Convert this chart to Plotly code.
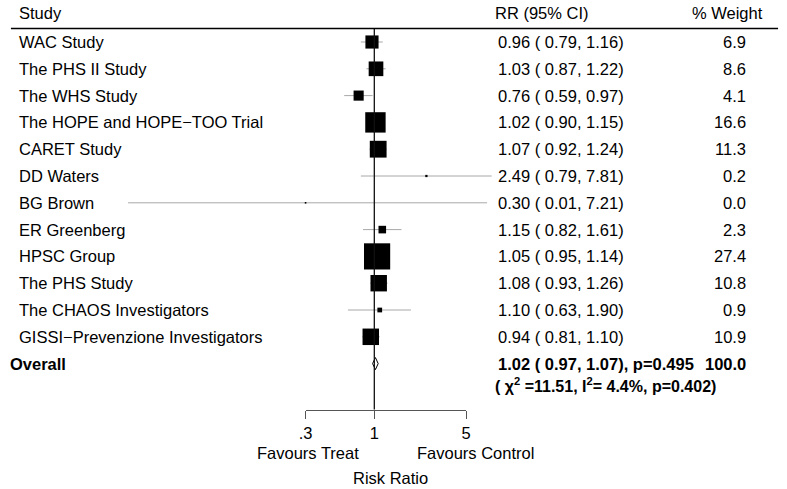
import math
import plotly.graph_objects as go

# ---------------- data ----------------
studies = ["WAC Study", "The PHS II Study", "The WHS Study", "The HOPE and HOPE\u2212TOO Trial",
           "CARET Study", "DD Waters", "BG Brown", "ER Greenberg", "HPSC Group",
           "The PHS Study", "The CHAOS Investigators", "GISSI\u2212Prevenzione Investigators"]
rr =    [0.96, 1.03, 0.76, 1.02, 1.07, 2.49, 0.30, 1.15, 1.05, 1.08, 1.10, 0.94]
ci_lo = [0.79, 0.87, 0.59, 0.90, 0.92, 0.79, 0.0134, 0.82, 0.95, 0.93, 0.63, 0.81]
ci_hi = [1.16, 1.22, 0.97, 1.15, 1.24, 7.81, 7.21, 1.61, 1.14, 1.26, 1.90, 1.10]
weight = [6.9, 8.6, 4.1, 16.6, 11.3, 0.2, 0.0, 2.3, 27.4, 10.8, 0.9, 10.9]

overall_rr, overall_lo, overall_hi = 1.02, 0.97, 1.07
overall_p = 0.495
overall_weight = 100.0
het_chi2, het_i2, het_p = 11.51, 4.4, 0.402

tick_vals = [0.3, 1, 5]
tick_text = [".3", "1", "5"]

# ---------------- layout geometry ----------------
W, H = 787, 489
X1_PX = 373.0        # pixel position of RR = 1
DEC_PX = 133.5       # pixels per decade
ROW0_PX = 42.0       # pixel y of first study row
ROW_PX = 26.8        # pixel spacing between rows

def row(p):
    return (p - ROW0_PX) / ROW_PX

def xpx(v):
    return X1_PX + DEC_PX * math.log10(v)

FONT = "Liberation Sans, Arial, Helvetica, sans-serif"
FS = 16.5
n = len(studies)
rows = list(range(n))
overall_row = n
axis_px = 409.6

fig = go.Figure()

# CI lines
lx, ly = [], []
for i in rows:
    lx += [ci_lo[i], ci_hi[i], None]
    ly += [i, i, None]
fig.add_trace(go.Scatter(x=lx, y=ly, mode="lines", line=dict(color="#a8a8a8", width=1),
                         hoverinfo="skip", showlegend=False))

# null line (drawn on the tick axis, same log scale)
fig.add_trace(go.Scatter(x=[1, 1], y=[row(28.5), row(axis_px)], xaxis="x2", yaxis="y",
                         mode="lines", line=dict(color="#111111", width=1.3),
                         hoverinfo="skip", showlegend=False))

# boxes (area proportional to weight)
sizes = [max(5.0 * math.sqrt(w), 1.6) for w in weight]
fig.add_trace(go.Scatter(x=rr, y=rows, mode="markers",
                         marker=dict(symbol="square", size=sizes, color="black", opacity=1,
                                     line=dict(width=0)),
                         text=studies, hoverinfo="text+x", showlegend=False))

# overall diamond
dh = 6.0 / ROW_PX
fig.add_trace(go.Scatter(x=[overall_lo, overall_rr, overall_hi, overall_rr, overall_lo],
                         y=[overall_row, overall_row - dh, overall_row, overall_row + dh, overall_row],
                         mode="lines", line=dict(color="black", width=1), hoverinfo="skip",
                         showlegend=False))

ann = []

def add_text(text, x_px, y_row, anchor="left", bold=False, size=FS):
    ann.append(dict(text=(f"<b>{text}</b>" if bold else text), x=x_px / W, xref="paper",
                    y=y_row, yref="y", xanchor=anchor, yanchor="middle", showarrow=False,
                    align=anchor, borderpad=0, borderwidth=0,
                    font=dict(family=FONT, size=size, color="black")))

# header
add_text("Study", 12, row(13))
add_text("RR (95% CI)", 496, row(13))
add_text("% Weight", 768, row(13), anchor="right")

for i in rows:
    add_text(studies[i], 12, i)
    add_text(f"{rr[i]:.2f} ( {ci_lo[i]:.2f}, {ci_hi[i]:.2f})", 499, i)
    add_text(f"{weight[i]:.1f}", 750, i, anchor="right")

add_text("Overall", 3, overall_row, bold=True)
add_text(f"{overall_rr:.2f} ( {overall_lo:.2f}, {overall_hi:.2f}), p={overall_p:.3f}", 499, overall_row, bold=True)
add_text(f"{overall_weight:.1f}", 750, overall_row, anchor="right", bold=True)
add_text(f"( \u03c7<sup>2</sup> ={het_chi2:.2f}, I<sup>2</sup>= {het_i2:.1f}%, p={het_p:.3f})",
         496, row(384.5), bold=True, size=16)

# axis captions
add_text("Favours Treat", 305.5, row(453), anchor="center")
add_text("Favours Control", 476, row(453), anchor="center")
add_text("Risk Ratio", 389.7, row(478), anchor="center")

fig.update_layout(
    width=W, height=H, margin=dict(l=0, r=0, t=0, b=0),
    paper_bgcolor="white", plot_bgcolor="rgba(0,0,0,0)",
    xaxis=dict(type="log", range=[(0 - X1_PX) / DEC_PX, (W - X1_PX) / DEC_PX],
               visible=False, domain=[0, 1], fixedrange=True),
    yaxis=dict(range=[row(H), row(0)], visible=False, domain=[0, 1], fixedrange=True),
    xaxis2=dict(type="log", domain=[xpx(tick_vals[0]) / W, xpx(tick_vals[-1]) / W],
                range=[math.log10(tick_vals[0]), math.log10(tick_vals[-1])],
                anchor="free", position=1 - axis_px / H,
                showline=True, linecolor="#555555", linewidth=1.3,
                ticks="outside", ticklen=8, tickcolor="#555555", tickwidth=1.3,
                tickvals=tick_vals, ticktext=tick_text, showgrid=False, zeroline=False,
                tickfont=dict(family=FONT, size=FS, color="black"), fixedrange=True),
    annotations=ann,
    showlegend=False,
)

# header rule
fig.add_shape(type="line", xref="paper", yref="paper", x0=4 / W, x1=783 / W,
              y0=1 - 28.5 / H, y1=1 - 28.5 / H, line=dict(color="black", width=1.5))

fig.write_html("out.html", config={"displayModeBar": False})

# remove the browser's default body margin so the figure sits at the page origin
with open("out.html", "r", encoding="utf-8") as f:
    html = f.read()
html = html.replace("<body>", '<body style="margin:0;padding:0;">', 1)
with open("out.html", "w", encoding="utf-8") as f:
    f.write(html)
